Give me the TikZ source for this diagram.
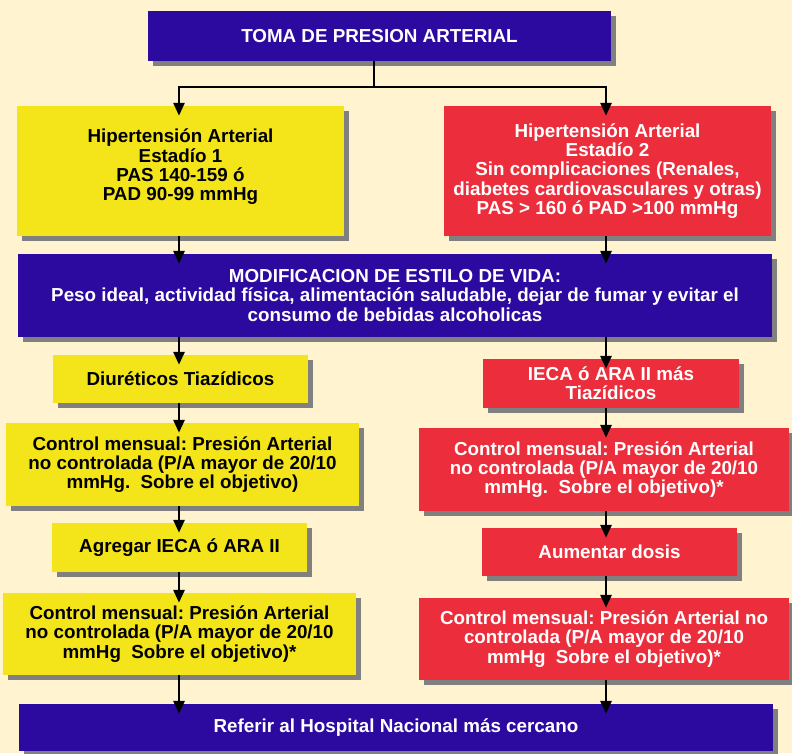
\documentclass[tikz,border=0pt]{standalone}
\usepackage{fontspec}
\setmainfont{Liberation Sans}
\usetikzlibrary{arrows.meta,shadows}
\definecolor{bgc}{RGB}{255,243,208}
\definecolor{blu}{RGB}{44,10,160}
\definecolor{yel}{RGB}{243,229,25}
\definecolor{rd}{RGB}{236,45,59}
\definecolor{shad}{RGB}{128,128,128}
\frenchspacing
\begin{document}
\begin{tikzpicture}[x=1pt,y=-1pt,
  box/.style={rectangle, inner sep=0pt, align=center,
    font=\fontsize{18.8}{19.3}\selectfont\bfseries,
    drop shadow={shadow xshift=5pt, shadow yshift=-5pt, fill=shad, opacity=1}},
  bluebox/.style={box, fill=blu, text=white},
  yelbox/.style={box, fill=yel, text=black},
  redbox/.style={box, fill=rd, text=white},
  arr/.style={line width=2.8pt, -{Triangle[length=13pt,width=11pt]}, shorten >=-10pt},
  ln/.style={line width=2.8pt}]
\useasboundingbox (0,0) rectangle (792,753);
\fill[bgc] (0,0) rectangle (792,753);

\node[bluebox, minimum width=463pt, minimum height=50pt] (top) at (379.5,36) {TOMA DE PRESION ARTERIAL};

\node[yelbox, minimum width=327pt, minimum height=130pt] (y1) at (180.5,171)
  {Hipertensión Arterial\\Estadío 1\\PAS 140-159 ó\\PAD 90-99 mmHg\\[-7pt]\mbox{}};
\node[redbox, minimum width=327pt, minimum height=130pt] (r1) at (607.5,171)
  {Hipertensión Arterial\\Estadío 2\\Sin complicaciones (Renales,\\diabetes cardiovasculares y otras)\\PAS > 160 ó PAD >100 mmHg};

\node[bluebox, minimum width=754pt, minimum height=83pt] (b2) at (395,295.5)
  {MODIFICACION DE ESTILO DE VIDA:\\Peso ideal, actividad física, alimentación saludable, dejar de fumar y evitar el\\consumo de bebidas alcoholicas};

\node[yelbox, minimum width=255pt, minimum height=48pt] (diu) at (180.5,379) {Diuréticos Tiazídicos};
\node[yelbox, minimum width=353pt, minimum height=83pt] (cy1) at (182.5,464.5)
  {Control mensual: Presión Arterial\\no controlada (P/A mayor de 20/10\\mmHg.\ \ Sobre el objetivo)};
\node[yelbox, minimum width=255pt, minimum height=49pt] (agr) at (179.5,547.5) {Agregar IECA ó ARA II};
\node[yelbox, minimum width=353pt, minimum height=82pt] (cy2) at (179.5,634)
  {Control mensual: Presión Arterial\\no controlada (P/A mayor de 20/10\\mmHg\ \ Sobre el objetivo)*};

\node[redbox, minimum width=256pt, minimum height=49pt] (ieca) at (611,383.5) {IECA ó ARA II más\\Tiazídicos};
\node[redbox, minimum width=370pt, minimum height=83pt] (cr1) at (604,469.5)
  {Control mensual: Presión Arterial\\no controlada (P/A mayor de 20/10\\mmHg.\ \ Sobre el objetivo)*};
\node[redbox, minimum width=255pt, minimum height=48pt] (aum) at (609.5,552) {Aumentar dosis};
\node[redbox, minimum width=370pt, minimum height=82pt] (cr2) at (604,639)
  {Control mensual: Presión Arterial no\\controlada (P/A mayor de 20/10\\mmHg\ \ Sobre el objetivo)*};

\node[bluebox, minimum width=754pt, minimum height=47pt] (bot) at (396,727.5) {Referir al Hospital Nacional más cercano};

\coordinate (j) at (374,87);
\coordinate (jl) at (179,87);
\coordinate (jr) at (606,87);
\draw[ln] (j |- top.south) -- (j);
\draw[ln, line cap=rect] (jl) -- (jr);
\draw[arr] (jl) -- (jl |- y1.north);
\draw[arr] (jr) -- (jr |- r1.north);

\draw[arr] (jl |- y1.south) -- (jl |- b2.north);
\draw[arr] (jr |- r1.south) -- (jr |- b2.north);
\draw[arr] (jl |- b2.south) -- (jl |- diu.north);
\draw[arr] (jl |- diu.south) -- (jl |- cy1.north);
\draw[arr] (jl |- cy1.south) -- (jl |- agr.north);
\draw[arr] (jl |- agr.south) -- (jl |- cy2.north);
\draw[arr] (jl |- cy2.south) -- (jl |- bot.north);
\draw[arr] (jr |- b2.south) -- (jr |- ieca.north);
\draw[arr] (jr |- ieca.south) -- (jr |- cr1.north);
\draw[arr] (jr |- cr1.south) -- (jr |- aum.north);
\draw[arr] (jr |- aum.south) -- (jr |- cr2.north);
\draw[arr] (jr |- cr2.south) -- (jr |- bot.north);
\end{tikzpicture}
\end{document}
